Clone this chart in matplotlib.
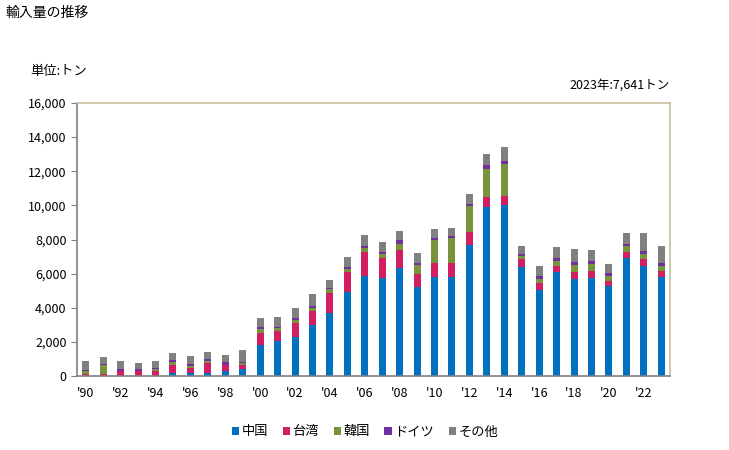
import numpy as np
import matplotlib
matplotlib.use("Agg")
import matplotlib.pyplot as plt
from matplotlib.ticker import FuncFormatter

plt.rcParams['font.family'] = ['Noto Sans CJK JP', 'DejaVu Sans']

years = list(range(1990, 2024))
series_names = ['中国', '台湾', '韓国', 'ドイツ', 'その他']
colors = ['#0070C0', '#D21F62', '#77933C', '#7030A0', '#808080']

china = [0, 0, 0, 0, 0, 157, 157, 196, 274, 392,
         1823, 2058, 2274, 2960, 3665, 4900, 5841, 5723, 6311, 5194,
         5802, 5802, 7664, 9918, 10035, 6390, 5018, 6076, 5664, 5723,
         5253, 6899, 6429, 5818]
taiwan = [137, 137, 314, 314, 314, 510, 333, 588, 392, 274,
          725, 568, 804, 823, 1176, 1176, 1411, 1176, 1058, 764,
          823, 804, 764, 568, 510, 451, 412, 353, 412, 412,
          294, 353, 412, 353]
korea = [137, 529, 0, 0, 78, 137, 118, 118, 0, 78,
         196, 196, 176, 176, 235, 176, 235, 235, 353, 529,
         1333, 1470, 1529, 1646, 1882, 176, 235, 294, 412, 412,
         294, 353, 294, 294]
germany = [98, 59, 118, 118, 98, 157, 118, 118, 137, 59,
           118, 78, 118, 118, 59, 118, 118, 118, 235, 118,
           118, 118, 118, 235, 176, 118, 176, 176, 176, 176,
           176, 118, 176, 176]
others = [529, 412, 431, 353, 372, 372, 470, 412, 451, 745,
          510, 529, 588, 706, 470, 588, 647, 588, 529, 588,
          529, 470, 588, 647, 823, 470, 588, 647, 764, 647,
          529, 647, 1058, 1000]

fig = plt.figure(figsize=(7.29, 4.5), dpi=100)
ax = fig.add_axes([77 / 729, 1 - 376 / 450, 593 / 729, 273 / 450])

x = np.arange(len(years))
bottom = np.zeros(len(years))
for vals, name, c in zip([china, taiwan, korea, germany, others], series_names, colors):
    ax.bar(x, vals, width=0.4, bottom=bottom, color=c, label=name, linewidth=0)
    bottom += np.array(vals)

ax.set_xlim(-0.5, len(years) - 0.5)
ax.set_ylim(0, 16000)
ax.set_yticks(np.arange(0, 16001, 2000))
ax.yaxis.set_major_formatter(FuncFormatter(lambda v, p: '{:,.0f}'.format(v)))
ax.set_xticks(x[::2])
ax.set_xticklabels(["'{:02d}".format(y % 100) for y in years[::2]])

ax.tick_params(axis='x', length=0, labelsize=9, pad=8)
ax.tick_params(axis='y', length=4, labelsize=9, color='#808080', direction='out')
for s in ['left', 'bottom']:
    ax.spines[s].set_color('#808080')
    ax.spines[s].set_linewidth(1.2)
for s in ['top', 'right']:
    ax.spines[s].set_color('#C8C0A0')
    ax.spines[s].set_linewidth(1.2)

fig.text(5 / 729, 1 - 13 / 450, '輸入量の推移', fontsize=10, va='center', ha='left')
fig.text(30 / 729, 1 - 72 / 450, '単位:トン', fontsize=9.5, va='center', ha='left')
fig.text(670 / 729, 1 - 85 / 450, '2023年:7,641トン', fontsize=9, va='center', ha='right')

ax.legend(loc='center', bbox_to_anchor=(365 / 729, 1 - 432 / 450),
          bbox_transform=fig.transFigure, ncol=5, frameon=False, fontsize=9.5,
          handlelength=0.55, handleheight=0.55, handletextpad=0.2, columnspacing=1.1)

fig.savefig('out.png', dpi=100)
